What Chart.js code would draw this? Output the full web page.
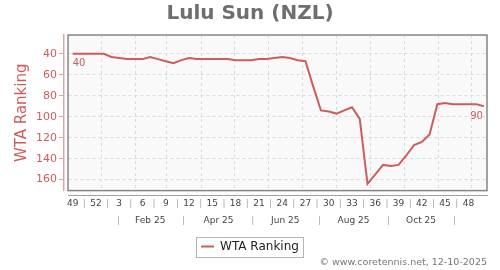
<!DOCTYPE html>
<html>
<head>
<meta charset="utf-8">
<script src="https://cdn.jsdelivr.net/npm/chart.js@4.4.1/dist/chart.umd.min.js"></script>
<style>
  html, body { margin: 0; padding: 0; background: #fff; }
</style>
</head>
<body>
<canvas id="grafico" width="500" height="270"></canvas>
<script>
// semanas ISO: de la 49 de 2024 a la 50 de 2025
var semanas = [49, 50, 51, 52, 1, 2, 3, 4, 5, 6, 7, 8, 9, 10, 11, 12, 13, 14, 15, 16,
               17, 18, 19, 20, 21, 22, 23, 24, 25, 26, 27, 28, 29, 30, 31, 32, 33, 34, 35, 36,
               37, 38, 39, 40, 41, 42, 43, 44, 45, 46, 47, 48, 49, 50];
// ranking WTA semanal
var ranking = [40, 40, 40, 40, 40, 43, 44, 45, 45, 45, 43, 45, 47, 49, 46, 44, 45, 45, 45, 45,
               45, 46, 46, 46, 45, 45, 44, 43, 44, 46, 47, 71, 94, 95, 97, 94, 91, 102, 164, 155,
               146, 147, 146, 137, 127, 124, 117, 88, 87, 88, 88, 88, 88, 90];

// eje de meses (posiciones en semanas desde el inicio)
var meses = ['Feb 25', 'Apr 25', 'Jun 25', 'Aug 25', 'Oct 25'];
var posMeses = [10.0, 18.8, 27.4, 36.2, 44.9];
var posSeparadores = [5.9, 14.3, 23.2, 31.8, 40.7, 49.2];
var posRejilla = [3.71, 8.14, 12.14, 16.57, 20.86, 25.29, 29.57, 34.0, 38.43, 42.71, 47.14, 51.43];
var ticksY = [40, 60, 80, 100, 120, 140, 160];

var rojo = '#cd5c5c';
var xMin = -0.6, xMax = 53.4;

Chart.defaults.font.family = 'DejaVu Sans';

function ticksSemanas(scale) {
    var t = [];
    for (var k = 0; k < semanas.length; k += 3) {
        t.push({value: k});
        if (k + 3 < semanas.length) t.push({value: k + 1.5});
    }
    scale.ticks = t;
}

function ticksMeses(scale) {
    var t = [];
    posSeparadores.forEach(function (v) { t.push({value: v}); });
    posMeses.forEach(function (v) { t.push({value: v}); });
    t.sort(function (a, b) { return a.value - b.value; });
    scale.ticks = t;
}

// fondo y marco del area de dibujo
var marco = {
    id: 'marco',
    beforeDraw: function (chart) {
        var a = chart.chartArea, ctx = chart.ctx;
        ctx.save();
        ctx.fillStyle = '#f9f9f9';
        ctx.fillRect(a.left, a.top, a.right - a.left, a.bottom - a.top);
        ctx.restore();
    },
    beforeDatasetsDraw: function (chart) {
        var a = chart.chartArea, ctx = chart.ctx;
        ctx.save();
        ctx.strokeStyle = '#858585';
        ctx.lineWidth = 1.5;
        ctx.strokeRect(a.left, a.top, a.right - a.left, a.bottom - a.top);
        ctx.restore();
    }
};

// etiquetas del primer y ultimo valor
var extremos = {
    id: 'extremos',
    afterDatasetsDraw: function (chart) {
        var meta = chart.getDatasetMeta(0), ctx = chart.ctx;
        var p0 = meta.data[0], pN = meta.data[meta.data.length - 1];
        ctx.save();
        ctx.fillStyle = rojo;
        ctx.font = '10px "DejaVu Sans"';
        ctx.textBaseline = 'top';
        ctx.textAlign = 'left';
        ctx.fillText(String(ranking[0]), p0.x, p0.y + 5);
        ctx.textAlign = 'right';
        ctx.fillText(String(ranking[ranking.length - 1]), pN.x - 1, pN.y + 5);
        ctx.restore();
    }
};

// recuadro de la leyenda
var cajaLeyenda = {
    id: 'cajaLeyenda',
    afterDraw: function (chart) {
        var hb = chart.legend.legendHitBoxes[0];
        if (!hb) return;
        var ctx = chart.ctx;
        var cy = hb.top + hb.height / 2;
        ctx.save();
        ctx.strokeStyle = '#b4b4b4';
        ctx.lineWidth = 1;
        ctx.strokeRect(Math.round(hb.left - 5) + 0.5, Math.round(cy - 10) + 0.5, Math.round(hb.width + 9), 20);
        ctx.restore();
    }
};

var ctx = document.getElementById('grafico').getContext('2d');
var chart = new Chart(ctx, {
    type: 'line',
    data: {
        datasets: [{
            label: 'WTA Ranking',
            data: ranking.map(function (v, i) { return {x: i, y: v}; }),
            borderColor: rojo,
            backgroundColor: rojo,
            borderWidth: 2,
            pointRadius: 0,
            tension: 0,
            fill: false,
            xAxisID: 'x',
            yAxisID: 'y'
        }]
    },
    options: {
        responsive: false,
        animation: false,
        devicePixelRatio: 1,
        layout: { padding: 0 },
        scales: {
            xg: {
                type: 'linear', position: 'bottom', weight: 0, min: xMin, max: xMax,
                afterBuildTicks: function (s) { s.ticks = posRejilla.map(function (v) { return {value: v}; }); },
                ticks: { display: false },
                grid: { drawTicks: false, color: '#dadada', lineWidth: 1 },
                border: { display: false, dash: [3, 3] },
                afterFit: function (s) { s.height = 5; }
            },
            x: {
                type: 'linear', position: 'bottom', weight: 1, min: xMin, max: xMax,
                afterBuildTicks: ticksSemanas,
                ticks: {
                    autoSkip: false, maxRotation: 0, minRotation: 0, padding: 3,
                    font: { size: 9 },
                    color: function (c) { return c.tick && c.tick.label === '|' ? '#a8a8a8' : '#444'; },
                    callback: function (v) { return (v % 3 === 0) ? String(semanas[v]) : '|'; }
                },
                grid: { drawOnChartArea: false, drawTicks: false },
                border: { color: '#a0a0a0', width: 1 },
                afterFit: function (s) { s.height = 14; }
            },
            xm: {
                type: 'linear', position: 'bottom', weight: 2, min: xMin, max: xMax,
                afterBuildTicks: ticksMeses,
                ticks: {
                    autoSkip: false, maxRotation: 0, minRotation: 0, padding: 6,
                    font: { size: 9 },
                    color: function (c) { return c.tick && c.tick.label === '|' ? '#a8a8a8' : '#444'; },
                    callback: function (v) {
                        var k = posMeses.indexOf(v);
                        return k >= 0 ? meses[k] : '|';
                    }
                },
                grid: { display: false, drawTicks: false },
                border: { display: false },
                afterFit: function (s) { s.height = 19; }
            },
            yd: {
                type: 'linear', position: 'left', weight: 0,
                ticks: { display: false },
                grid: { display: false, drawTicks: false },
                border: { display: false },
                afterFit: function (s) { s.width = 4; }
            },
            y: {
                type: 'linear', position: 'left', weight: 1, reverse: true, min: 22, max: 170.5,
                afterBuildTicks: function (s) { s.ticks = ticksY.map(function (v) { return {value: v}; }); },
                ticks: { color: rojo, font: { size: 11 }, padding: 2 },
                grid: { color: '#dadada', tickColor: '#e2a3a3', tickLength: 5 },
                border: { color: '#e2a3a3', width: 1.5, dash: [3, 3] },
                title: {
                    display: true, text: 'WTA Ranking', color: rojo,
                    font: { size: 15 }, padding: { top: 13, bottom: 0 }
                },
                afterFit: function (s) { s.width = 64; }
            },
            yr: {
                type: 'linear', position: 'right',
                ticks: { display: false },
                grid: { display: false, drawTicks: false },
                border: { display: false },
                afterFit: function (s) { s.width = 13; }
            }
        },
        plugins: {
            title: {
                display: true, text: 'Lulu Sun (NZL)', color: '#6e6e6e',
                font: { size: 20, weight: 'bold' }, padding: { top: 2, bottom: 9 }
            },
            subtitle: {
                display: true, text: '© www.coretennis.net, 12-10-2025',
                position: 'bottom', align: 'end', fullSize: false, color: '#777',
                font: { size: 9.5, weight: 'normal' }, padding: { top: 0, bottom: 2 }
            },
            legend: {
                position: 'bottom', maxHeight: 28,
                labels: {
                    usePointStyle: true, pointStyle: 'line', pointStyleWidth: 13, boxHeight: 12,
                    padding: 12, color: '#222', font: { size: 12 }
                }
            },
            tooltip: { enabled: false }
        }
    },
    plugins: [marco, extremos, cajaLeyenda]
});
</script>
</body>
</html>
